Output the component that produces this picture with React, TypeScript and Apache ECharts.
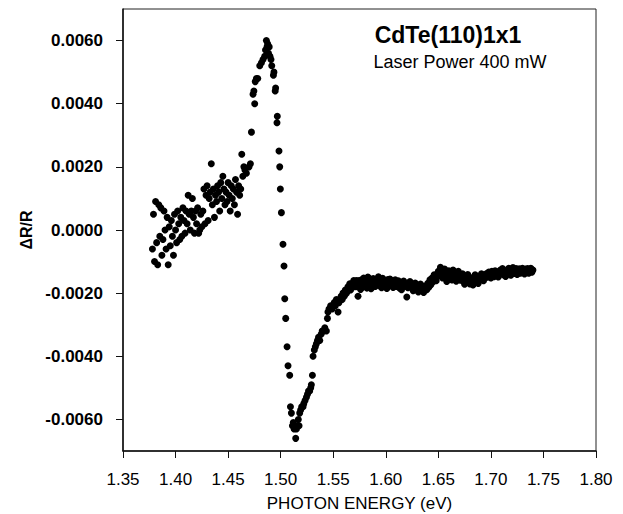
import React, { useEffect, useRef } from "react";
import * as echarts from "echarts";

const titleText = "CdTe(110)1x1";
const subtitleText = "Laser Power 400 mW";
const xAxisName = "PHOTON ENERGY (eV)";
const yAxisName = "ΔR/R";
const yTickValues = [-0.006, -0.004, -0.002, 0, 0.002, 0.004, 0.006];

// Below-gap region: noisy signal, photon energy (eV) vs ΔR/R
const belowGapPoints: [number, number][] = [
  [1.378, -0.0006], [1.379, 0.0005], [1.380, -0.0010], [1.381, 0.0009], [1.382, -0.0004],
  [1.383, -0.0011], [1.384, 0.0008], [1.385, -0.0002], [1.386, 0.0007], [1.387, -0.0008],
  [1.388, -0.0003], [1.389, 0.0006], [1.390, 0.0000], [1.391, -0.0006], [1.392, 0.0004],
  [1.393, -0.0011], [1.394, 0.0001], [1.395, -0.0005], [1.396, 0.0003], [1.397, -0.0002],
  [1.398, -0.0008], [1.399, 0.0005], [1.400, 0.0000], [1.401, -0.0004], [1.402, 0.0006],
  [1.403, 0.0002], [1.404, -0.0003], [1.405, 0.0004], [1.406, -0.0002], [1.407, 0.0007],
  [1.408, 0.0003], [1.409, -0.0001], [1.410, 0.0006], [1.411, 0.0002], [1.412, 0.0011],
  [1.413, 0.0005], [1.414, 0.0000], [1.415, 0.0006], [1.416, 0.0010], [1.417, 0.0004],
  [1.418, -0.0001], [1.419, 0.0006], [1.420, 0.0002], [1.421, 0.0007], [1.422, -0.0001],
  [1.423, 0.0000], [1.424, 0.0005], [1.425, 0.0001], [1.426, 0.0006], [1.427, 0.0013],
  [1.428, 0.0002], [1.429, 0.0011], [1.430, 0.0014], [1.431, 0.0003], [1.432, 0.0010],
  [1.433, 0.0012], [1.434, 0.0021], [1.435, 0.0008], [1.436, 0.0013], [1.437, 0.0004],
  [1.438, 0.0011], [1.439, 0.0009], [1.440, 0.0014], [1.441, 0.0012], [1.442, 0.0006],
  [1.443, 0.0015], [1.444, 0.0010], [1.445, 0.0017], [1.446, 0.0013], [1.447, 0.0008],
  [1.448, 0.0012], [1.449, 0.0009], [1.450, 0.0015], [1.451, 0.0011], [1.452, 0.0006],
  [1.453, 0.0014], [1.454, 0.0010], [1.455, 0.0013], [1.456, 0.0008], [1.457, 0.0016],
  [1.458, 0.0012], [1.459, 0.0005], [1.460, 0.0014], [1.461, 0.0011], [1.462, 0.0013],
  [1.463, 0.0024], [1.464, 0.0017], [1.465, 0.0020], [1.466, 0.0019], [1.4674, 0.0018],
  [1.4699, 0.0020], [1.4712, 0.0021],
];

// Rise to the excitonic peak and steep fall
const peakPoints: [number, number][] = [
  [1.4722, 0.0031], [1.4737, 0.0043], [1.4745, 0.0044], [1.4753, 0.0040], [1.4758, 0.0047],
  [1.4769, 0.0048], [1.4782, 0.0048], [1.4801, 0.0052], [1.4817, 0.0053], [1.4832, 0.0054],
  [1.4848, 0.0055], [1.4856, 0.0057], [1.4864, 0.0060], [1.4870, 0.0058], [1.4876, 0.0059],
  [1.4884, 0.0056], [1.4891, 0.0058], [1.4898, 0.0055], [1.4908, 0.0054], [1.4915, 0.0052],
  [1.4931, 0.0049], [1.4936, 0.0050], [1.4948, 0.0044], [1.4952, 0.0045], [1.4965, 0.0034],
  [1.4968, 0.0036], [1.4984, 0.0025], [1.4991, 0.0020], [1.4997, 0.0013], [1.5007, 0.00055],
  [1.5022, -0.00045],
];

// Fall into the minimum
const dipPoints: [number, number][] = [
  [1.5032, -0.00114], [1.5039, -0.00218], [1.5048, -0.0028], [1.5061, -0.0037], [1.5070, -0.0043],
  [1.5086, -0.0046], [1.5093, -0.0056], [1.5102, -0.0058], [1.5112, -0.0062], [1.5120, -0.0061],
  [1.5128, -0.0063], [1.5136, -0.0062], [1.5143, -0.0066], [1.5150, -0.0063], [1.5160, -0.0062],
  [1.5168, -0.0060], [1.5175, -0.0062], [1.5181, -0.0058], [1.5190, -0.0057], [1.5200, -0.0056],
  [1.5213, -0.0056], [1.5220, -0.0055], [1.5232, -0.0054], [1.5245, -0.0053], [1.5255, -0.0052],
  [1.5265, -0.0051], [1.5276, -0.0051], [1.5286, -0.0050], [1.5292, -0.0049], [1.5302, -0.0046],
];

// Recovery towards the plateau
const recoveryPoints: [number, number][] = [
  [1.5308, -0.0040], [1.5320, -0.0038], [1.5330, -0.0037], [1.5340, -0.0036], [1.5350, -0.0035],
  [1.5360, -0.0034], [1.5372, -0.0035], [1.5385, -0.0033], [1.5395, -0.0032], [1.5405, -0.0032],
  [1.5420, -0.0031], [1.5435, -0.0032], [1.5445, -0.0028], [1.5450, -0.0026], [1.5460, -0.0025],
  [1.5475, -0.0024], [1.5490, -0.0025], [1.5498, -0.0024], [1.5510, -0.0023], [1.5520, -0.0024],
  [1.5530, -0.0022], [1.5546, -0.0026], [1.5555, -0.0023], [1.5562, -0.0022], [1.5575, -0.0021],
  [1.5585, -0.0022], [1.5593, -0.0020], [1.5605, -0.0021], [1.5615, -0.0019], [1.5626, -0.0020],
  [1.5640, -0.0018], [1.5650, -0.0019], [1.5657, -0.0017], [1.5665, -0.0019], [1.5673, -0.0017],
  [1.5685, -0.0018], [1.5695, -0.0016], [1.5705, -0.0018], [1.5712, -0.0017], [1.5720, -0.0016],
  [1.5730, -0.0018], [1.5736, -0.0021], [1.5745, -0.0016],
];

// Above-gap plateau
const plateauPoints: [number, number][] = [
  [1.575, -0.00172], [1.576, -0.00188], [1.577, -0.00158], [1.578, -0.00181], [1.579, -0.00152],
  [1.580, -0.00167], [1.581, -0.00161], [1.582, -0.00184], [1.583, -0.00149], [1.584, -0.00173],
  [1.585, -0.00163], [1.586, -0.00186], [1.587, -0.00169], [1.588, -0.00154], [1.589, -0.00166],
  [1.590, -0.00179], [1.591, -0.00171], [1.592, -0.00158], [1.593, -0.00148], [1.594, -0.00176],
  [1.595, -0.00162], [1.596, -0.00183], [1.597, -0.00153], [1.598, -0.00172], [1.599, -0.00164],
  [1.600, -0.00168], [1.601, -0.00185], [1.602, -0.00157], [1.603, -0.00174], [1.604, -0.00155],
  [1.605, -0.00171], [1.606, -0.00163], [1.607, -0.00182], [1.608, -0.00169], [1.609, -0.00158],
  [1.610, -0.00179], [1.611, -0.00172], [1.612, -0.00161], [1.613, -0.00184], [1.614, -0.00168],
  [1.615, -0.00189], [1.616, -0.00173], [1.617, -0.00162], [1.618, -0.00178], [1.619, -0.00171],
  [1.620, -0.00212], [1.621, -0.00183], [1.622, -0.00168], [1.623, -0.00163], [1.624, -0.00181],
  [1.625, -0.00172], [1.626, -0.00192], [1.627, -0.00179], [1.628, -0.00168], [1.629, -0.00188],
  [1.630, -0.00176], [1.631, -0.00196], [1.632, -0.00183], [1.633, -0.00171], [1.634, -0.00191],
  [1.635, -0.00178], [1.636, -0.00198], [1.637, -0.00186], [1.638, -0.00177], [1.639, -0.00189],
  [1.640, -0.00169], [1.641, -0.00181], [1.642, -0.00158], [1.643, -0.00173], [1.644, -0.00152],
  [1.645, -0.00164], [1.646, -0.00142], [1.647, -0.00153], [1.648, -0.00161], [1.649, -0.00139],
  [1.650, -0.00131], [1.651, -0.00144], [1.652, -0.00118], [1.653, -0.00128], [1.654, -0.00152],
  [1.655, -0.00136], [1.656, -0.00124], [1.657, -0.00148], [1.658, -0.00163], [1.659, -0.00141],
  [1.660, -0.00129], [1.661, -0.00154], [1.662, -0.00138], [1.663, -0.00158], [1.664, -0.00127],
  [1.665, -0.00149], [1.666, -0.00137], [1.667, -0.00162], [1.668, -0.00146], [1.669, -0.00131],
  [1.670, -0.00143], [1.671, -0.00159], [1.672, -0.00151], [1.673, -0.00139], [1.674, -0.00163],
  [1.675, -0.00172], [1.676, -0.00149], [1.677, -0.00161], [1.678, -0.00141], [1.679, -0.00158],
  [1.680, -0.00171], [1.681, -0.00152], [1.682, -0.00164], [1.683, -0.00174], [1.684, -0.00148],
  [1.685, -0.00142], [1.686, -0.00161], [1.687, -0.00153], [1.688, -0.00169], [1.689, -0.00158],
  [1.690, -0.00147], [1.691, -0.00139], [1.692, -0.00152], [1.693, -0.00161], [1.694, -0.00142],
  [1.695, -0.00151], [1.696, -0.00138], [1.697, -0.00149], [1.698, -0.00133], [1.699, -0.00143],
  [1.700, -0.00152], [1.701, -0.00131], [1.702, -0.00142], [1.703, -0.00148], [1.704, -0.00129],
  [1.705, -0.00141], [1.706, -0.00133], [1.707, -0.00149], [1.708, -0.00138], [1.709, -0.00127],
  [1.710, -0.00139], [1.711, -0.00122], [1.712, -0.00142], [1.713, -0.00131], [1.714, -0.00147],
  [1.715, -0.00128], [1.716, -0.00139], [1.717, -0.00121], [1.718, -0.00133], [1.719, -0.00143],
  [1.720, -0.00129], [1.721, -0.00119], [1.722, -0.00138], [1.723, -0.00127], [1.724, -0.00122],
  [1.725, -0.00141], [1.726, -0.00131], [1.727, -0.00123], [1.728, -0.00137], [1.729, -0.00128],
  [1.730, -0.00121], [1.731, -0.00132], [1.732, -0.00139], [1.733, -0.00124], [1.734, -0.00131],
  [1.735, -0.00122], [1.736, -0.00137], [1.737, -0.00128], [1.738, -0.00121], [1.739, -0.00134],
  [1.740, -0.00127],
];

const FONT = "'Liberation Sans', Arial, Helvetica, sans-serif";

export default function App() {
  const ref = useRef<HTMLDivElement>(null);
  useEffect(() => {
    if (!ref.current) return;
    const chart = echarts.init(ref.current, undefined, { renderer: "svg" });
    const allPoints = [
      ...belowGapPoints,
      ...peakPoints,
      ...dipPoints,
      ...recoveryPoints,
      ...plateauPoints,
    ];
    chart.setOption({
      animation: false,
      backgroundColor: "#ffffff",
      title: [
        {
          text: titleText,
          left: 443,
          top: 18,
          textAlign: "center",
          textStyle: { fontFamily: FONT, fontSize: 23, fontWeight: "bold", color: "#000" },
        },
        {
          text: subtitleText,
          left: 455,
          top: 48,
          textAlign: "center",
          textStyle: { fontFamily: FONT, fontSize: 18, fontWeight: "normal", color: "#000" },
        },
      ],
      grid: {
        left: 123,
        right: 27,
        top: 9,
        bottom: 63,
        show: true,
        containLabel: false,
        outerBoundsMode: "none",
        borderColor: "#222",
        borderWidth: 1,
        backgroundColor: "transparent",
      },
      xAxis: {
        type: "value",
        min: 1.35,
        max: 1.8,
        interval: 0.05,
        name: xAxisName,
        nameLocation: "middle",
        nameGap: 43,
        nameTextStyle: { fontFamily: FONT, fontSize: 17, color: "#000", lineHeight: 18 },
        axisLine: { show: true, onZero: false, lineStyle: { color: "#111", width: 1.5 } },
        axisTick: { show: true, inside: false, length: 7, lineStyle: { color: "#111", width: 1 } },
        splitLine: { show: false },
        axisLabel: {
          fontFamily: FONT,
          fontSize: 17,
          color: "#000",
          margin: 20,
          showMinLabel: true,
          showMaxLabel: true,
          formatter: (v: number) => v.toFixed(2),
        },
      },
      yAxis: {
        type: "value",
        min: -0.007,
        max: 0.007,
        name: yAxisName,
        nameLocation: "middle",
        nameGap: 74,
        nameRotate: 90,
        nameTextStyle: { fontFamily: FONT, fontSize: 16, fontWeight: "bold", color: "#000" },
        axisLine: { show: true, onZero: false, lineStyle: { color: "#111", width: 1.5 } },
        axisTick: {
          show: true,
          inside: false,
          length: 7,
          customValues: yTickValues,
          lineStyle: { color: "#111", width: 1 },
        },
        splitLine: { show: false },
        axisLabel: {
          fontFamily: FONT,
          fontSize: 17,
          fontWeight: "bold",
          color: "#000",
          margin: 20,
          customValues: yTickValues,
          formatter: (v: number) => (Math.abs(v) < 1e-12 ? "0.0000" : v.toFixed(4)),
        },
      },
      series: [
        {
          type: "scatter",
          data: allPoints,
          symbol: "circle",
          symbolSize: 7,
          itemStyle: { color: "#000", opacity: 1 },
        },
      ],
    });
    return () => chart.dispose();
  }, []);
  return (
    <div
      ref={ref}
      style={{ position: "absolute", left: 0, top: 0, width: 623, height: 514, background: "#fff" }}
    />
  );
}
